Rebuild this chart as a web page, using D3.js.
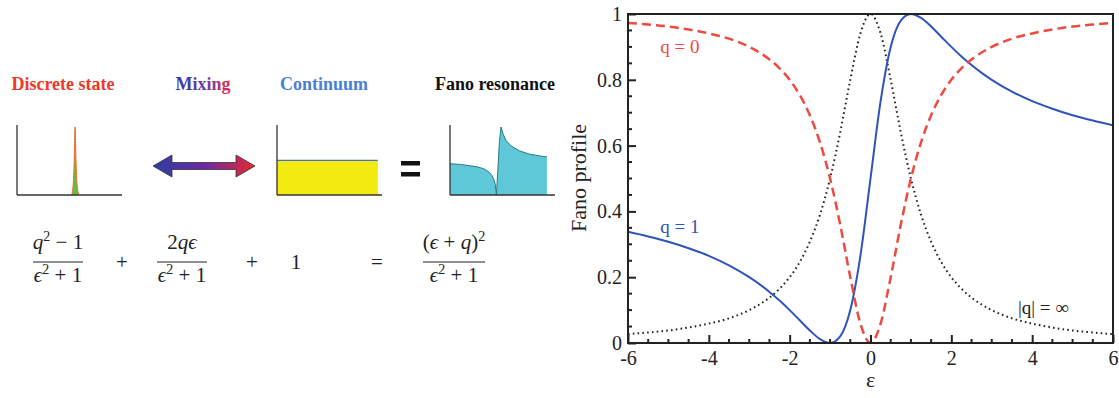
<!DOCTYPE html>
<html>
<head>
<meta charset="utf-8">
<script src="https://cdn.jsdelivr.net/npm/d3@7/dist/d3.min.js"></script>
<style>
  body { margin: 0; background: #fff; }
  svg { display: block; font-family: "Liberation Serif", "DejaVu Serif", serif; }
  text { font-family: "Liberation Serif", "DejaVu Serif", serif; }
</style>
</head>
<body>
<script>
// ---- data ----
// detuning grid (epsilon) for the main plot
var eps = [-6, -5.5, -5, -4.5, -4, -3.5, -3, -2.75, -2.5, -2.25, -2, -1.75, -1.5, -1.25, -1,
           -0.75, -0.5, -0.25, 0, 0.25, 0.5, 0.75, 1, 1.25, 1.5, 1.75, 2, 2.25, 2.5, 2.75,
           3, 3.5, 4, 4.5, 5, 5.5, 6];
// q = 0 (red dashed)
var q0 = [0.973, 0.968, 0.962, 0.953, 0.941, 0.925, 0.9, 0.883, 0.862, 0.835, 0.8, 0.754, 0.692, 0.61, 0.5,
          0.36, 0.2, 0.059, 0, 0.059, 0.2, 0.36, 0.5, 0.61, 0.692, 0.754, 0.8, 0.835, 0.862, 0.883,
          0.9, 0.925, 0.941, 0.953, 0.962, 0.968, 0.973];
// q = 1 (blue solid)
var q1 = [0.338, 0.324, 0.308, 0.288, 0.265, 0.236, 0.2, 0.179, 0.155, 0.129, 0.1, 0.069, 0.038, 0.012, 0,
          0.02, 0.1, 0.265, 0.5, 0.735, 0.9, 0.98, 1, 0.988, 0.962, 0.931, 0.9, 0.871, 0.845, 0.821,
          0.8, 0.764, 0.735, 0.712, 0.692, 0.676, 0.662];
// |q| = infinity (black dotted)
var qInf = [0.027, 0.032, 0.038, 0.047, 0.059, 0.075, 0.1, 0.117, 0.138, 0.165, 0.2, 0.246, 0.308, 0.39, 0.5,
            0.64, 0.8, 0.941, 1, 0.941, 0.8, 0.64, 0.5, 0.39, 0.308, 0.246, 0.2, 0.165, 0.138, 0.117,
            0.1, 0.075, 0.059, 0.047, 0.038, 0.032, 0.027];

var xTicks = [-6, -4, -2, 0, 2, 4, 6];
var yTicks = [0, 0.2, 0.4, 0.6, 0.8, 1];
var yTickLabels = ["0", "0.2", "0.4", "0.6", "0.8", "1"];

// small schematic panels (relative units 0..1)
var peakX = [0.52, 0.535, 0.545, 0.553, 0.562, 0.572, 0.59];
var peakY = [0, 0.15, 0.5, 1, 0.5, 0.15, 0];
var contX = [0, 0.96];
var contY = [0.51, 0.51];
var fanoX = [0, 0.1, 0.2, 0.28, 0.34, 0.38, 0.41, 0.43, 0.445, 0.455, 0.47, 0.485, 0.5, 0.52, 0.55, 0.6, 0.68, 0.78, 0.9, 0.95];
var fanoY = [0.46, 0.45, 0.43, 0.41, 0.38, 0.34, 0.29, 0.23, 0.15, 0, 0.4, 0.8, 1, 0.9, 0.8, 0.72, 0.65, 0.6, 0.57, 0.56];

var titles = ["Discrete state", "Mixing", "Continuum", "Fano resonance"];

var W = 1119, H = 398;
var svg = d3.select("body").append("svg").attr("width", W).attr("height", H);

var defs = svg.append("defs");
var g1 = defs.append("linearGradient").attr("id", "mixgrad").attr("x1", "0%").attr("x2", "100%");
g1.append("stop").attr("offset", "0%").attr("stop-color", "#2b3f9e");
g1.append("stop").attr("offset", "50%").attr("stop-color", "#6a2aa8");
g1.append("stop").attr("offset", "100%").attr("stop-color", "#e8282a");
var g2 = defs.append("linearGradient").attr("id", "mixtext").attr("x1", "0%").attr("x2", "100%");
g2.append("stop").attr("offset", "0%").attr("stop-color", "#2b3aa8");
g2.append("stop").attr("offset", "55%").attr("stop-color", "#6a3aa8");
g2.append("stop").attr("offset", "100%").attr("stop-color", "#e0304a");

// ---- left: schematic ----
var left = svg.append("g");
var titleX = [63, 203, 324, 495];
var titleFill = ["#f0382a", "url(#mixtext)", "#4a80d4", "#111"];
left.selectAll("text.title").data(titles).enter().append("text")
  .attr("class", "title")
  .attr("x", function(d, i){ return titleX[i]; })
  .attr("y", 90)
  .attr("text-anchor", "middle")
  .style("font-size", "18px")
  .style("font-weight", "bold")
  .attr("fill", function(d, i){ return titleFill[i]; })
  .text(function(d){ return d; });

function miniPanel(x0, x1, axisEnd){
  var g = left.append("g");
  var sx = d3.scaleLinear().domain([0, 1]).range([x0, x1]);
  var sy = d3.scaleLinear().domain([0, 1]).range([195, 127]);
  return {g: g, sx: sx, sy: sy, axisEnd: axisEnd};
}
function miniAxes(p){
  p.g.append("line").attr("x1", p.sx(0)).attr("x2", p.sx(0)).attr("y1", 125).attr("y2", 195)
    .attr("stroke", "#333").attr("stroke-width", 1.3);
  p.g.append("line").attr("x1", p.sx(0)).attr("x2", p.axisEnd).attr("y1", 195).attr("y2", 195)
    .attr("stroke", "#333").attr("stroke-width", 1.3);
}

// discrete state
var p1 = miniPanel(17, 122, 122);
var peakLine = d3.line().x(function(d){ return p1.sx(d[0]); }).y(function(d){ return p1.sy(d[1]); }).curve(d3.curveMonotoneX);
p1.g.append("path").datum(d3.zip(peakX, peakY)).attr("d", peakLine)
  .attr("fill", "#5cc040").attr("stroke", "#f06a2a").attr("stroke-width", 1);
miniAxes(p1);

// mixing arrow
var ax0 = 153, ax1 = 255, ay = 166, hl = 19, hh = 11, sh = 3.5;
var arrowPts = [[ax0, ay], [ax0 + hl, ay - hh], [ax0 + hl, ay - sh], [ax1 - hl, ay - sh], [ax1 - hl, ay - hh],
                [ax1, ay], [ax1 - hl, ay + hh], [ax1 - hl, ay + sh], [ax0 + hl, ay + sh], [ax0 + hl, ay + hh]];
left.append("path").attr("d", "M" + arrowPts.join("L") + "Z")
  .attr("fill", "url(#mixgrad)").attr("stroke", "#333").attr("stroke-width", 0.8);

// continuum
var p3 = miniPanel(277, 382, 382);
var contArea = d3.area().x(function(d){ return p3.sx(d[0]); }).y0(195).y1(function(d){ return p3.sy(d[1]); });
p3.g.append("path").datum(d3.zip(contX, contY)).attr("d", contArea).attr("fill", "#f2ea10");
p3.g.append("line").attr("x1", p3.sx(contX[0])).attr("x2", p3.sx(contX[1]))
  .attr("y1", p3.sy(contY[0])).attr("y2", p3.sy(contY[1])).attr("stroke", "#4a6fc8").attr("stroke-width", 1.3);
miniAxes(p3);

// equals sign
left.append("rect").attr("x", 401).attr("y", 161).attr("width", 19).attr("height", 4.5).attr("fill", "#111");
left.append("rect").attr("x", 401).attr("y", 172).attr("width", 19).attr("height", 4.5).attr("fill", "#111");

// fano resonance
var p4 = miniPanel(450, 552, 555);
var fanoArea = d3.area().x(function(d){ return p4.sx(d[0]); }).y0(195).y1(function(d){ return p4.sy(d[1]); });
var fanoLine = d3.line().x(function(d){ return p4.sx(d[0]); }).y(function(d){ return p4.sy(d[1]); });
p4.g.append("path").datum(d3.zip(fanoX, fanoY)).attr("d", fanoArea).attr("fill", "#5ec8d8");
p4.g.append("path").datum(d3.zip(fanoX, fanoY)).attr("d", fanoLine)
  .attr("fill", "none").attr("stroke", "#2a7a80").attr("stroke-width", 1);
miniAxes(p4);

// equations
var eq = left.append("g").style("font-size", "21px").attr("fill", "#222");
function frac(cx, w, num, den){
  eq.append("text").attr("x", cx).attr("y", 249).attr("text-anchor", "middle").html(num);
  eq.append("line").attr("x1", cx - w / 2).attr("x2", cx + w / 2).attr("y1", 262).attr("y2", 262)
    .attr("stroke", "#222").attr("stroke-width", 1.2);
  eq.append("text").attr("x", cx).attr("y", 282).attr("text-anchor", "middle").html(den);
}
var den = '<tspan font-style="italic">ϵ</tspan><tspan dy="-8" font-size="14">2</tspan><tspan dy="8"> + 1</tspan>';
frac(58, 50, '<tspan font-style="italic">q</tspan><tspan dy="-8" font-size="14">2</tspan><tspan dy="8"> − 1</tspan>', den);
frac(182, 50, '2<tspan font-style="italic">qϵ</tspan>', den);
frac(454, 62, '(<tspan font-style="italic">ϵ</tspan> + <tspan font-style="italic">q</tspan>)<tspan dy="-8" font-size="14">2</tspan>', den);
[[122, "+"], [252, "+"], [296, "1"], [377, "="]].forEach(function(d){
  eq.append("text").attr("x", d[0]).attr("y", 269).attr("text-anchor", "middle").text(d[1]);
});

// ---- right: Fano profile plot ----
var m = {left: 628, right: 1113, top: 14, bottom: 343};
var x = d3.scaleLinear().domain([-6, 6]).range([m.left, m.right]);
var y = d3.scaleLinear().domain([0, 1]).range([m.bottom, m.top]);
var plot = svg.append("g");

plot.append("defs").append("clipPath").attr("id", "clip")
  .append("rect").attr("x", m.left).attr("y", m.top - 2).attr("width", m.right - m.left).attr("height", m.bottom - m.top + 2);

var line = d3.line().x(function(d){ return x(d[0]); }).y(function(d){ return y(d[1]); }).curve(d3.curveMonotoneX);
var curves = plot.append("g").attr("clip-path", "url(#clip)");
curves.append("path").datum(d3.zip(eps, qInf)).attr("d", line)
  .attr("fill", "none").attr("stroke", "#222").attr("stroke-width", 2).attr("stroke-dasharray", "1.6,3.2");
curves.append("path").datum(d3.zip(eps, q1)).attr("d", line)
  .attr("fill", "none").attr("stroke", "#2f54b8").attr("stroke-width", 2);
curves.append("path").datum(d3.zip(eps, q0)).attr("d", line)
  .attr("fill", "none").attr("stroke", "#ee4a40").attr("stroke-width", 2.5).attr("stroke-dasharray", "9,5");

// frame
plot.append("rect").attr("x", m.left).attr("y", m.top).attr("width", m.right - m.left).attr("height", m.bottom - m.top)
  .attr("fill", "none").attr("stroke", "#222").attr("stroke-width", 2);

// axes with inward ticks
var xAxis = d3.axisBottom(x).tickValues(xTicks).tickSizeInner(-8).tickSizeOuter(0).tickPadding(14)
  .tickFormat(function(d){ return d; });
var gx = plot.append("g").attr("transform", "translate(0," + m.bottom + ")").call(xAxis);
var xMinor = d3.range(-6, 6.01, 0.5).filter(function(v){ return xTicks.indexOf(v) < 0; });
gx.selectAll("line.minor").data(xMinor).enter().append("line").attr("class", "minor")
  .attr("x1", function(d){ return x(d); }).attr("x2", function(d){ return x(d); })
  .attr("y1", 0).attr("y2", -4);

var yAxis = d3.axisLeft(y).tickValues(yTicks).tickSizeInner(-8).tickSizeOuter(0).tickPadding(14)
  .tickFormat(function(d, i){ return yTickLabels[i]; });
var gy = plot.append("g").attr("transform", "translate(" + m.left + ",0)").call(yAxis);
var yMinor = d3.range(0, 1.001, 0.05).map(function(v){ return Math.round(v * 100) / 100; })
  .filter(function(v){ return yTicks.indexOf(v) < 0; });
gy.selectAll("line.minor").data(yMinor).enter().append("line").attr("class", "minor")
  .attr("y1", function(d){ return y(d); }).attr("y2", function(d){ return y(d); })
  .attr("x1", 0).attr("x2", 4);

[gx, gy].forEach(function(g){
  g.attr("font-family", null);
  g.select(".domain").remove();
  g.selectAll("line").attr("stroke", "#222").attr("stroke-width", 2);
  g.selectAll("text").style("font-family", "'Liberation Serif', serif").style("font-size", "20px").attr("fill", "#222");
});
gx.selectAll(".tick text").attr("dy", "0.4em");
gy.selectAll(".tick text").attr("x", -6);

// axis titles
plot.append("text").attr("x", x(0)).attr("y", 387).attr("text-anchor", "middle")
  .style("font-size", "22px").attr("fill", "#222").text("ε");
plot.append("text").attr("transform", "translate(586," + 178 + ") rotate(-90)").attr("text-anchor", "middle")
  .style("font-size", "22px").attr("fill", "#222").text("Fano profile");

// curve labels
plot.append("text").attr("x", x(-5.2)).attr("y", 53).style("font-size", "19px").attr("fill", "#ee4a40").text("q = 0");
plot.append("text").attr("x", x(-5.2)).attr("y", 233).style("font-size", "19px").attr("fill", "#2f54b8").text("q = 1");
plot.append("text").attr("x", x(3.65)).attr("y", 314).style("font-size", "19px").attr("fill", "#222").text("|q| = ∞");
</script>
</body>
</html>
